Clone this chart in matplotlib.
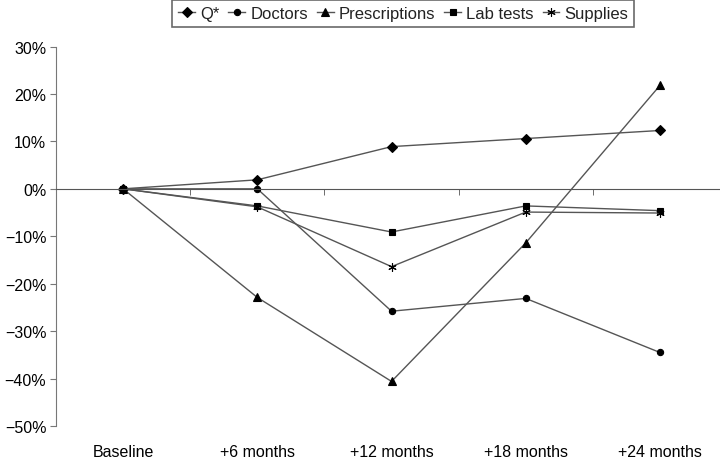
import matplotlib.pyplot as plt
from matplotlib.ticker import FuncFormatter

plt.rcParams['font.family'] = ['Liberation Sans', 'DejaVu Sans']

# categories and series (% change from baseline)
periods = ['Baseline', '+6 months', '+12 months', '+18 months', '+24 months']
q_star = [0, 1.9, 8.9, 10.6, 12.3]
doctors = [0, 0.0, -25.8, -23.1, -34.5]
prescriptions = [0, -22.9, -40.6, -11.4, 21.8]
lab_tests = [0, -3.6, -9.1, -3.6, -4.6]
supplies = [0, -3.8, -16.4, -4.9, -5.1]

series = [
    ('Q*', q_star, 'D', 5),
    ('Doctors', doctors, 'o', 4.5),
    ('Prescriptions', prescriptions, '^', 5.5),
    ('Lab tests', lab_tests, 's', 5),
    ('Supplies', supplies, (6, 2, 0), 6),
]

fig = plt.figure(figsize=(7.2, 4.6), dpi=100)
ax = fig.add_axes([0.0778, 0.0717, 0.932, 0.825])

x = list(range(len(periods)))
for name, vals, mk, ms in series:
    ax.plot(x, vals, color='#555555', lw=1.0, marker=mk, markersize=ms,
            markerfacecolor='black', markeredgecolor='black', markeredgewidth=0.8,
            label=name)


def pct(v, p):
    s = '%d%%' % abs(v)
    return ('\u2212' + s) if v < 0 else s


ax.set_xlim(-0.5, 4.5)
ax.set_ylim(-50, 30)
ax.set_yticks(range(-50, 31, 10))
ax.yaxis.set_major_formatter(FuncFormatter(pct))

for s in ['top', 'right']:
    ax.spines[s].set_visible(False)
ax.spines['left'].set_color('#777777')
ax.spines['bottom'].set_position(('data', 0))
ax.spines['bottom'].set_color('#555555')
ax.tick_params(axis='y', direction='out', length=4, color='#777777', labelsize=11.5, pad=3)

# category ticks between points on the zero line, labels at bottom
ax.set_xticks([])
ax.set_xticks([0.5, 1.5, 2.5, 3.5], minor=True)
ax.tick_params(axis='x', which='minor', direction='out', length=4, color='#555555')
for i, lab in enumerate(periods):
    ax.text(i, -0.068, lab, transform=ax.get_xaxis_transform(),
            ha='center', va='center', fontsize=11.5)

leg = fig.legend(loc='upper center', bbox_to_anchor=(0.56, 1.0), ncol=5,
                 frameon=True, fancybox=False, fontsize=12, handlelength=1.0,
                 handletextpad=0.3, columnspacing=0.55, borderpad=0.35,
                 borderaxespad=0.05)
leg.get_frame().set_edgecolor('#444444')
leg.get_frame().set_linewidth(1.2)
for t in leg.get_texts():
    t.set_color('#222222')

fig.savefig('out.png', dpi=100)
